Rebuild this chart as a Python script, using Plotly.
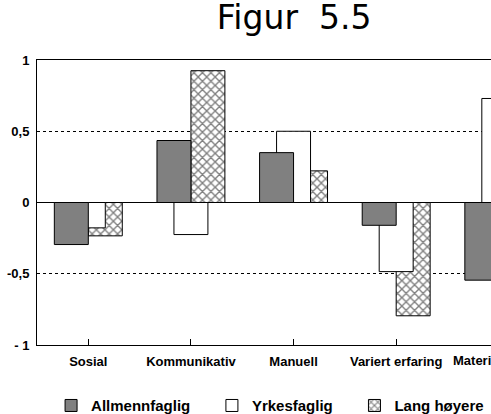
import plotly.graph_objects as go

# data
categories = ["Sosial", "Kommunikativ", "Manuell", "Variert erfaring", "Materiell"]
allmennfaglig = [-0.295, 0.435, 0.35, -0.16, -0.545]
yrkesfaglig = [-0.178, -0.225, 0.5, -0.485, 0.73]
lang_hoyere = [-0.234, 0.925, 0.222, -0.795, None]

y_ticks = [-1, -0.5, 0, 0.5, 1]
y_labels = ["- 1", "-0,5", "0", "0,5", "1"]

x_range = [-0.5, 3.924]   # the last group runs off the right edge, as in the original
bw = 0.331
pad = "\u00a0" * 4        # extra room between legend entries
font_b = dict(family="Liberation Sans, Arial", size=13, color="black", weight="bold")

fig = go.Figure()

# drawn back to front: hatched, white, grey
fig.add_trace(go.Bar(x=categories, y=lang_hoyere, name="Lang høyere",
                     width=bw, offset=0,
                     marker=dict(color="white",
                                 pattern=dict(shape="x", fgcolor="black", bgcolor="white",
                                              size=6, solidity=0.4),
                                 line=dict(color="black", width=1))))
fig.add_trace(go.Bar(x=categories, y=yrkesfaglig, name="Yrkesfaglig" + pad,
                     width=bw, offset=-bw / 2,
                     marker=dict(color="white", line=dict(color="black", width=1))))
fig.add_trace(go.Bar(x=categories, y=allmennfaglig, name="Allmennfaglig" + pad,
                     width=bw, offset=-bw,
                     marker=dict(color="#808080", line=dict(color="black", width=1))))

# label of the cut-off last group (its tick lies outside the visible range)
last = len(categories) - 1
fig.add_annotation(x=(last - x_range[0]) / (x_range[1] - x_range[0]), y=0,
                   xref="paper", yref="paper", text=categories[last],
                   showarrow=False, xanchor="left", yanchor="top",
                   xshift=-48, yshift=-6, font=font_b)

fig.update_layout(
    width=491, height=414,
    margin=dict(l=37, r=0, t=60, b=69, autoexpand=False),
    paper_bgcolor="white", plot_bgcolor="white",
    barmode="overlay",
    title=dict(text="Figur\u00a0\u00a05.5", x=0.599, xref="container", xanchor="center",
               y=0.986, yref="container", yanchor="top",
               font=dict(family="DejaVu Sans", size=33, color="black")),
    showlegend=True,
    legend=dict(orientation="h", traceorder="reversed",
                x=0.104, xref="container", xanchor="left",
                y=0.02, yref="container", yanchor="middle",
                font=dict(family="Liberation Sans, Arial", size=15, color="black", weight="bold"),
                bgcolor="rgba(0,0,0,0)"),
)

fig.update_xaxes(range=x_range, automargin=False, showline=True, linecolor="black",
                 linewidth=1, mirror=True, showgrid=False, ticks="inside", ticklen=6,
                 tickcolor="black", tickfont=font_b, tickangle=0, ticklabelstandoff=4)
fig.update_yaxes(range=[-1, 1], automargin=False, tickvals=y_ticks, ticktext=y_labels,
                 showline=True, linecolor="black", linewidth=1,
                 showgrid=True, gridcolor="black", griddash="dot", gridwidth=1,
                 zeroline=True, zerolinecolor="black", zerolinewidth=1,
                 ticks="", ticklabelstandoff=4,
                 tickfont=dict(family="Liberation Sans, Arial", size=13,
                               color="black", weight="bold"))

# drop the page's default body margin so the figure sits at the window corner
fig.write_html("out.html", config={"displayModeBar": False},
               post_script="document.body.style.margin='0';")
